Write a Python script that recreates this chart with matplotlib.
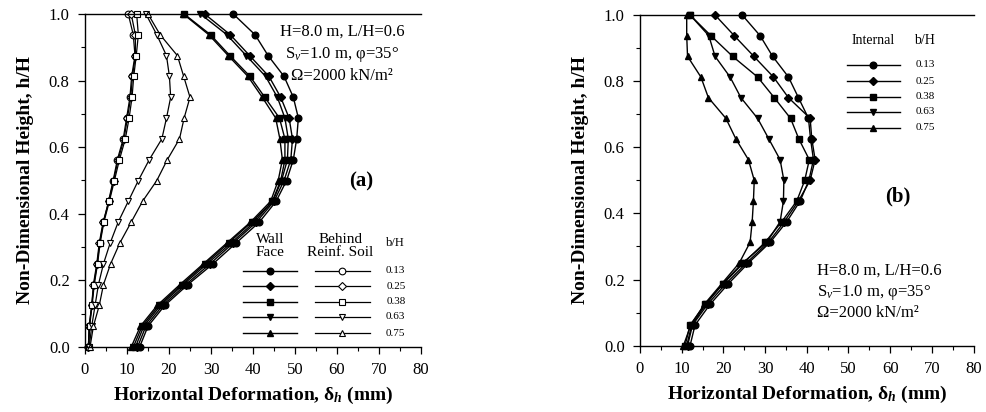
import matplotlib
matplotlib.use("Agg")
import matplotlib.pyplot as plt
from matplotlib.lines import Line2D
from matplotlib.ticker import MultipleLocator

plt.rcParams['font.family'] = ['Liberation Serif', 'DejaVu Serif']
plt.rcParams['mathtext.fontset'] = 'custom'
plt.rcParams['mathtext.rm'] = 'Liberation Serif'
plt.rcParams['mathtext.it'] = 'Liberation Serif:italic'
plt.rcParams['mathtext.bf'] = 'Liberation Serif:bold'
try:
    plt.rcParams['mathtext.bfit'] = 'Liberation Serif:italic:bold'
    BFIT = True
except KeyError:
    BFIT = False

# ---------------- data ----------------
h_over_H = [1.0, 0.9375, 0.875, 0.8125, 0.75, 0.6875, 0.625, 0.5625, 0.5,
            0.4375, 0.375, 0.3125, 0.25, 0.1875, 0.125, 0.0625, 0.0]
bH_labels = ["0.13", "0.25", "0.38", "0.63", "0.75"]
markers = ["o", "D", "s", "v", "^"]
msizes = [4.8, 3.6, 4.8, 4.8, 4.8]

# (a) wall face deformations (mm)
a_face_013 = [35.3, 40.5, 43.6, 47.4, 49.6, 50.8, 50.4, 49.6, 48.0, 45.5, 41.5, 36.0, 30.5, 24.5, 19.0, 15.0, 13.0]
a_face_025 = [28.5, 34.6, 39.2, 43.8, 46.6, 48.6, 49.4, 49.0, 47.4, 45.0, 40.8, 35.3, 29.8, 24.0, 18.5, 14.5, 12.5]
a_face_038 = [23.6, 29.9, 34.5, 39.3, 42.8, 46.3, 47.6, 47.6, 46.6, 44.6, 40.3, 34.8, 29.1, 23.4, 18.0, 14.0, 12.0]
a_face_063 = [27.5, 33.8, 38.4, 43.0, 45.8, 47.6, 48.4, 48.2, 46.8, 44.7, 39.7, 34.2, 28.6, 23.0, 17.6, 13.6, 11.5]
a_face_075 = [23.4, 29.5, 34.1, 38.8, 42.2, 45.4, 46.4, 47.0, 46.0, 44.2, 39.4, 33.8, 28.2, 22.6, 17.2, 13.2, 11.0]
# (a) behind reinforced soil deformations (mm)
a_soil_013 = [10.3, 11.5, 11.9, 11.1, 10.7, 9.9, 9.1, 7.7, 6.7, 5.6, 4.4, 3.5, 2.9, 2.1, 1.6, 1.0, 0.8]
a_soil_025 = [11.0, 12.0, 12.0, 11.3, 10.9, 10.1, 9.3, 7.9, 6.8, 5.7, 4.3, 3.4, 2.8, 2.0, 1.6, 1.0, 0.8]
a_soil_038 = [12.3, 12.7, 12.2, 11.6, 11.2, 10.5, 9.6, 8.2, 7.0, 5.8, 4.5, 3.6, 3.0, 2.2, 1.7, 1.1, 0.9]
a_soil_063 = [14.5, 17.1, 19.4, 20.1, 20.4, 19.4, 18.3, 15.3, 12.7, 10.3, 7.9, 6.0, 4.4, 3.2, 2.4, 1.6, 1.0]
a_soil_075 = [15.0, 17.9, 22.0, 23.5, 25.0, 23.6, 22.5, 19.6, 17.1, 13.7, 11.0, 8.3, 6.1, 4.4, 3.4, 2.0, 1.2]
# (b) internal deformations (mm)
b_int_013 = [24.5, 28.8, 31.8, 35.6, 38.0, 40.4, 40.9, 41.6, 40.5, 38.4, 35.2, 31.2, 26.0, 21.2, 16.8, 13.2, 12.0]
b_int_025 = [18.0, 22.6, 27.3, 32.0, 35.6, 40.8, 41.2, 42.0, 40.8, 38.0, 34.6, 30.8, 25.5, 20.6, 16.2, 12.6, 11.4]
b_int_038 = [12.0, 17.0, 22.2, 28.2, 32.2, 36.1, 38.1, 40.6, 39.5, 37.6, 34.0, 30.0, 24.8, 20.0, 15.6, 12.0, 10.8]
b_int_063 = [12.0, 16.5, 18.0, 21.6, 24.2, 28.2, 30.9, 33.6, 34.5, 34.4, 33.6, 30.4, 24.6, 19.8, 15.8, 12.4, 11.2]
b_int_075 = [11.2, 11.2, 11.4, 14.6, 16.4, 20.6, 23.0, 26.0, 27.4, 27.2, 26.9, 26.4, 23.8, 19.6, 15.4, 12.2, 10.4]

a_face = [a_face_013, a_face_025, a_face_038, a_face_063, a_face_075]
a_soil = [a_soil_013, a_soil_025, a_soil_038, a_soil_063, a_soil_075]
b_int = [b_int_013, b_int_025, b_int_038, b_int_063, b_int_075]

x_ticks = [0, 10, 20, 30, 40, 50, 60, 70, 80]
y_ticks = [0.0, 0.2, 0.4, 0.6, 0.8, 1.0]

# ---------------- figure ----------------
fig = plt.figure(figsize=(9.87, 4.12), dpi=100)
axa = fig.add_axes([85/987, 1-347/412, 336/987, 333/412])
axb = fig.add_axes([640/987, 1-345.7/412, 333.6/987, 330.7/412])

if BFIT:
    xlab = r"Horizontal Deformation, δ$_{\mathbfit{h}}$ (mm)"
else:
    xlab = r"Horizontal Deformation, δ$_{\mathbf{h}}$ (mm)"

for ax in (axa, axb):
    ax.set_xlim(0, 80)
    ax.set_ylim(0, 1.0)
    ax.set_xticks(x_ticks)
    ax.set_yticks(y_ticks)
    ax.set_yticklabels([f"{v:.1f}" for v in y_ticks])
    ax.xaxis.set_minor_locator(MultipleLocator(5))
    ax.yaxis.set_minor_locator(MultipleLocator(0.1))
    ax.tick_params(which='major', direction='out', length=5, width=0.9, labelsize=12, pad=6)
    ax.tick_params(which='minor', direction='out', length=3, width=0.8)
    ax.spines['right'].set_visible(False)
    for s in ('left', 'bottom', 'top'):
        ax.spines[s].set_linewidth(1.0)
    ax.set_xlabel(xlab, fontsize=14, fontweight='bold', labelpad=5)
    ax.set_ylabel("Non-Dimensional Height, h/H", fontsize=14, fontweight='bold', labelpad=11)
    ax.patch.set_visible(False)

# panel (a) curves
for vals, m, ms in zip(a_face, markers, msizes):
    axa.plot(vals, h_over_H, color='black', lw=1.0, marker=m, ms=ms,
             mfc='black', mec='black', clip_on=False)
for vals, m, ms in zip(a_soil, markers, msizes):
    axa.plot(vals, h_over_H, color='black', lw=0.9, marker=m, ms=ms,
             mfc='white', mec='black', mew=0.8, clip_on=False)

# panel (b) curves
for vals, m, ms in zip(b_int, markers, msizes):
    axb.plot(vals, h_over_H, color='black', lw=1.0, marker=m, ms=ms,
             mfc='black', mec='black', clip_on=False)

# annotations (a)
ta = axa.transAxes
axa.text(0.765, 0.946, "H=8.0 m, L/H=0.6", transform=ta, ha='center', va='center', fontsize=12)
axa.text(0.765, 0.877, r"S$_v$=1.0 m, φ=35°", transform=ta, ha='center', va='center', fontsize=12)
axa.text(0.765, 0.814, "Ω=2000 kN/m²", transform=ta, ha='center', va='center', fontsize=12)
axa.text(0.821, 0.498, "(a)", transform=ta, ha='center', va='center', fontsize=15, fontweight='bold')

# legend (a)
axa.text(0.551, 0.303, "Wall\nFace", transform=ta, ha='center', va='center', fontsize=11, linespacing=1.0)
axa.text(0.760, 0.303, "Behind\nReinf. Soil", transform=ta, ha='center', va='center', fontsize=11, linespacing=1.0)
axa.text(0.925, 0.312, "b/H", transform=ta, ha='center', va='center', fontsize=9)
rows_a = [0.229, 0.183, 0.136, 0.091, 0.041]
for y, m, ms, lab in zip(rows_a, markers, msizes, bH_labels):
    axa.add_line(Line2D([0.470, 0.631], [y, y], transform=ta, color='black', lw=1.0))
    axa.add_line(Line2D([0.551], [y], transform=ta, marker=m, ms=ms, mfc='black', mec='black', lw=0))
    axa.add_line(Line2D([0.685, 0.848], [y, y], transform=ta, color='black', lw=0.9))
    axa.add_line(Line2D([0.766], [y], transform=ta, marker=m, ms=ms, mfc='white', mec='black', mew=0.8, lw=0))
    axa.text(0.925, y, lab, transform=ta, ha='center', va='center', fontsize=8)

# annotations (b)
tb = axb.transAxes
axb.text(0.531, 0.226, "H=8.0 m, L/H=0.6", transform=tb, ha='left', va='center', fontsize=12)
axb.text(0.531, 0.162, r"S$_v$=1.0 m, φ=35°", transform=tb, ha='left', va='center', fontsize=12)
axb.text(0.531, 0.099, "Ω=2000 kN/m²", transform=tb, ha='left', va='center', fontsize=12)
axb.text(0.773, 0.450, "(b)", transform=tb, ha='center', va='center', fontsize=15, fontweight='bold')

# legend (b)
axb.text(0.698, 0.924, "Internal", transform=tb, ha='center', va='center', fontsize=10)
axb.text(0.854, 0.924, "b/H", transform=tb, ha='center', va='center', fontsize=10)
rows_b = [0.849, 0.800, 0.753, 0.708, 0.659]
for y, m, ms, lab in zip(rows_b, markers, msizes, bH_labels):
    axb.add_line(Line2D([0.620, 0.779], [y, y], transform=tb, color='black', lw=1.0))
    axb.add_line(Line2D([0.698], [y], transform=tb, marker=m, ms=ms, mfc='black', mec='black', lw=0))
    axb.text(0.854, y, lab, transform=tb, ha='center', va='center', fontsize=8)

fig.savefig("out.png", dpi=100)
